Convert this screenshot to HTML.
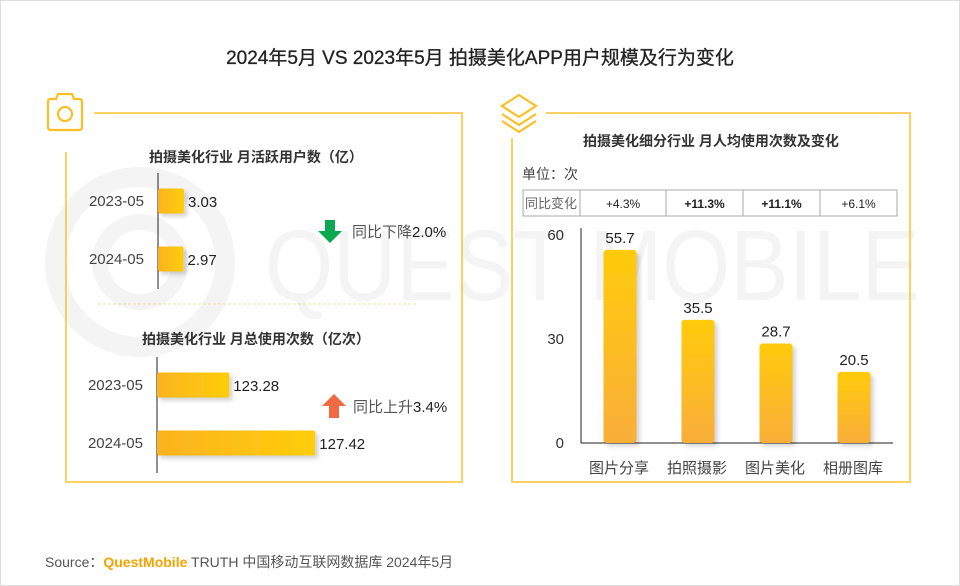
<!DOCTYPE html>
<html><head><meta charset="utf-8"><style>
body{margin:0;background:#fff;}
#root{position:relative;width:960px;height:586px;overflow:hidden;font-family:"Liberation Sans","Noto Sans CJK SC",sans-serif;color:#333;}
svg text{font-family:"Liberation Sans","Noto Sans CJK SC",sans-serif;}
</style></head><body>
<div id="root">
<svg id="svg" width="960" height="586" viewBox="0 0 960 586">
<defs>
<linearGradient id="hg" x1="0" x2="1" y1="0" y2="0"><stop offset="0" stop-color="#fbb320"/><stop offset="1" stop-color="#ffcd0a"/></linearGradient>
<linearGradient id="vg" x1="0" x2="0" y1="0" y2="1"><stop offset="0" stop-color="#ffcb0c"/><stop offset="1" stop-color="#f9ae3a"/></linearGradient>
<filter id="sh" x="-20%" y="-20%" width="150%" height="150%"><feDropShadow dx="3" dy="3" stdDeviation="2" flood-color="#000" flood-opacity="0.18"/></filter>
</defs>
<rect x="0.5" y="0.5" width="959" height="585" fill="#fff" stroke="#ddd"/>
<g>
<circle cx="140" cy="262" r="85" fill="none" stroke="#f4f4f4" stroke-width="20"/>
<circle cx="140" cy="262" r="40" fill="none" stroke="#f4f4f4" stroke-width="16"/>
<text x="265" y="300" font-size="100" fill="#f4f4f4" textLength="655" lengthAdjust="spacingAndGlyphs">QUEST MOBILE</text>
</g>
<text x="480" y="64" text-anchor="middle" font-size="19" fill="#222" stroke="#222" stroke-width="0.3">2024年5月 VS 2023年5月 拍摄美化APP用户规模及行为变化</text>

<path d="M94 113 H462 V482 H66 V152" fill="none" stroke="#fbc02d" stroke-width="1.5"/>
<g fill="none" stroke="#fbbf24" stroke-width="2.2">
<path d="M48 101 Q48 99 51 99 H56 L58 94 H72 L74 99 H79 Q82 99 82 102 V127 Q82 130 79 130 H51 Q48 130 48 127 Z"/>
<circle cx="65" cy="114" r="7"/>
</g>
<text x="256" y="162" text-anchor="middle" font-size="14" font-weight="bold" fill="#333">拍摄美化行业 月活跃用户数（亿）</text>
<g id="mau"></g>
<line x1="98" y1="304" x2="418" y2="304" stroke="#f6dca0" stroke-dasharray="3,2"/>
<text x="256" y="344" text-anchor="middle" font-size="14" font-weight="bold" fill="#333">拍摄美化行业 月总使用次数（亿次）</text>
<g id="use"></g>
<path d="M325 220 H335 V231 H342 L330 243 L318 231 H325 Z" fill="#0aa84f"/>
<text x="352" y="237" font-size="15" fill="#555">同比下降<tspan fill="#222">2.0%</tspan></text>
<path d="M334 394 L346 406 H339 V418 H329 V406 H322 Z" fill="#f06a44"/>
<text x="353" y="412" font-size="15" fill="#555">同比上升<tspan fill="#222">3.4%</tspan></text>

<path d="M546 113 H910 V482 H512 V138" fill="none" stroke="#fbc02d" stroke-width="1.5"/>
<g fill="none" stroke="#fbbf24" stroke-width="2.2">
<path d="M502 106 L519 95 L536 106 L519 117 Z"/>
<path d="M502 114 L519 125 L536 114"/>
<path d="M502 121 L519 132 L536 121"/>
</g>
<text x="711" y="146" text-anchor="middle" font-size="14" font-weight="bold" fill="#333">拍摄美化细分行业 月人均使用次数及变化</text>
<text x="522" y="179" font-size="14" fill="#444">单位：次</text>
<g id="tbl"></g>
<g id="bar"></g>

<text x="45" y="567" font-size="14" fill="#555">Source：<tspan fill="#f5a300" font-weight="bold">QuestMobile</tspan> TRUTH 中国移动互联网数据库 2024年5月</text>
</svg>
</div>
<script>
const NS='http://www.w3.org/2000/svg';
const mauCats=['2023-05','2024-05'];
const mauVals=[3.03,2.97];
const useCats=['2023-05','2024-05'];
const useVals=[123.28,127.42];
const segCats=['图片分享','拍照摄影','图片美化','相册图库'];
const segVals=[55.7,35.5,28.7,20.5];
const segYoy=['+4.3%','+11.3%','+11.1%','+6.1%'];
const segBold=[false,true,true,false];
const yTicks=[0,30,60];
function mk(p,t,a,txt){const e=document.createElementNS(NS,t);for(const k in a)e.setAttribute(k,a[k]);if(txt!==undefined)e.textContent=txt;p.appendChild(e);return e;}
function hbar(gid,cats,vals,x0,yTop,scale,fmt){
  const g=document.getElementById(gid);
  const ax=mk(g,'line',{x1:x0,x2:x0,y1:yTop,y2:yTop+116,stroke:'#222'});
  
  
  cats.forEach((c,i)=>{
    const yc=yTop+28+i*58;
    const w=scale(vals[i]);
    const r=mk(g,'rect',{x:x0,y:yc-12.5,width:w,height:25,rx:2,fill:'url(#hg)',filter:'url(#sh)'});
    
    
    const l=mk(g,'text',{x:x0-14,y:yc+5,'text-anchor':'end','font-size':15,fill:'#444'},c);
    
    
    const v=mk(g,'text',{x:x0+w+4,y:yc+6,'font-size':15,fill:'#222'},fmt(vals[i]));
    
    
  });
}
hbar('mau',mauCats,mauVals,158,173,v=>v*8.6,v=>v.toFixed(2));
hbar('use',useCats,useVals,157,357,v=>(v-119.8)*20.77,v=>v.toFixed(2));
const tg=document.getElementById('tbl');
const cols=[523,580,666,743,820,897];
mk(tg,'rect',{x:523,y:190,width:374,height:26,fill:'none',stroke:'#aaa'});
cols.slice(1,-1).forEach(x=>mk(tg,'line',{x1:x,x2:x,y1:190,y2:216,stroke:'#aaa'}));
const th=mk(tg,'text',{x:551,y:208,'text-anchor':'middle','font-size':13,fill:'#666'},'同比变化');


segYoy.forEach((s,i)=>{
  const t=mk(tg,'text',{x:(cols[i+1]+cols[i+2])/2,y:208,'text-anchor':'middle','font-size':12,fill:'#222','font-weight':segBold[i]?'bold':'normal'},s);
  
  
});
const bg=document.getElementById('bar');
const y0=443,yPer=104/30;
const yS=v=>y0-v*yPer;
const xS=i=>620+i*78;
yTicks.forEach(t=>{
  const e=mk(bg,'text',{x:564,y:yS(t)+5,'text-anchor':'end','font-size':15,fill:'#333'},String(t));
  
  
});
const ya=mk(bg,'line',{x1:581,x2:581,y1:yS(yTicks[yTicks.length-1])-7,y2:y0,stroke:'#222'});


const xa=mk(bg,'line',{x1:581,x2:893,y1:y0,y2:y0,stroke:'#222'});


segCats.forEach((c,i)=>{
  const cx=xS(i),top=yS(segVals[i]);
  const r=mk(bg,'rect',{x:cx-16.5,y:top,width:33,height:y0-top,rx:3,fill:'url(#vg)',filter:'url(#sh)'});
  
  
  const v=mk(bg,'text',{x:cx,y:top-7,'text-anchor':'middle','font-size':15,fill:'#222'},segVals[i].toFixed(1));
  
  
  const l=mk(bg,'text',{x:cx-1,y:473,'text-anchor':'middle','font-size':15,fill:'#444'},c);
  
  
});
</script>
</body></html>
